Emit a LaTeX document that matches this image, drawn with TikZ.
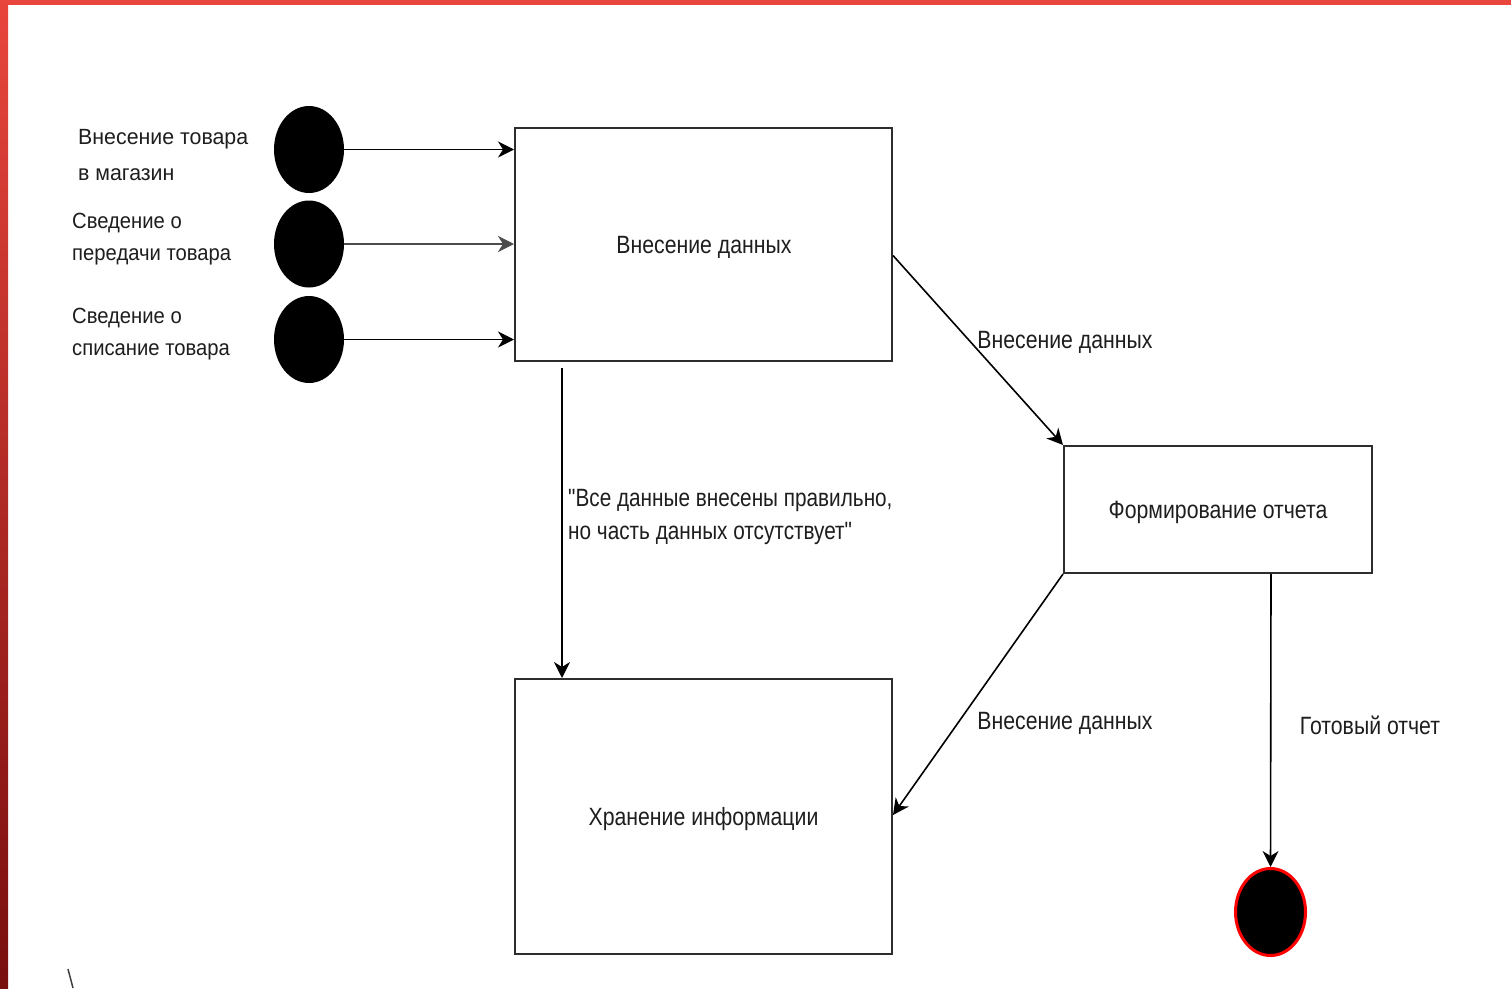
\documentclass[tikz,border=0pt]{standalone}
\usepackage{fontspec}
\setmainfont{Liberation Sans}
\newfontfamily\narrowfont[FakeStretch=0.85]{Liberation Sans}
\newfontfamily\quotefont[FakeStretch=0.83]{Liberation Sans}
\newfontfamily\labfont[FakeStretch=0.92]{Liberation Sans}
\newfontfamily\labwidefont[FakeStretch=0.97]{Liberation Sans}
\usetikzlibrary{arrows.meta,shapes.geometric,positioning}
\definecolor{ink}{RGB}{30,30,30}
\definecolor{edge}{RGB}{45,45,45}
\definecolor{frametop}{RGB}{232,69,60}
\definecolor{framebot}{RGB}{120,14,14}
\tikzset{
  box/.style={draw=edge, line width=2pt, fill=white, rectangle, inner sep=0pt},
  boxtext/.style={font=\narrowfont\fontsize{25}{29}\selectfont, text=ink, inner sep=0pt},
  dot/.style={ellipse, fill=black, draw=none, minimum width=70pt, minimum height=87pt, inner sep=0pt},
  enddot/.style={ellipse, fill=black, draw=red, line width=3pt, minimum width=70pt, minimum height=87pt, inner sep=0pt},
  arr/.style={draw=black, line width=1.6pt, -{Stealth[length=16pt,width=16pt,inset=5pt]}},
  elabel/.style={font=\narrowfont\fontsize{25}{33}\selectfont, text=ink, inner sep=0pt},
  lab/.style={font=\labfont\fontsize{22}{32}\selectfont, text=ink, inner sep=0pt, anchor=west, align=left}
}
\begin{document}
\begin{tikzpicture}[x=1pt,y=-1pt]
\useasboundingbox (0,0) rectangle (1511,988);
\fill[white] (0,0) rectangle (1511,988);
% frame
\fill[frametop] (0,0) rectangle (1511,5);
\shade[top color=frametop, bottom color=framebot] (0,0) rectangle (8,988);
% stray mark
\draw[black!75, line width=1.5pt] (68,969) -- (73,988);

% boxes
\node[box, minimum width=377pt, minimum height=233pt] (b1) at (703.5,244.5) {};
\node[box, minimum width=308pt, minimum height=127pt] (b2) at (1218,509.5) {};
\node[box, minimum width=377pt, minimum height=275pt] (b3) at (703.5,816.5) {};
\node[boxtext] (t1) at (704,247) {Внесение данных};
\node[boxtext] (t2) at (1218,512.5) {Формирование отчета};
\node[boxtext] (t3) at (703.5,819) {Хранение информации};

% start dots
\node[dot] (c1) at (309,149.5) {};
\node[dot] (c2) at (309,244) {};
\node[dot] (c3) at (309,339.5) {};
\node[enddot] (e1) at (1270.5,912) {};

% left labels
\node[lab, font=\labwidefont\fontsize{22}{36}\selectfont] (l1) at (78,155) {Внесение товара\\в магазин};
\node[lab] (l2) at (72,239) {Сведение о\\передачи товара};
\node[lab] (l3) at (72,334.5) {Сведение о\\списание товара};

% connectors
\draw[arr] (c1.east) -- (c1.east -| b1.west);
\draw[arr, draw=black!70, line width=2.4pt] (c2.east) -- (c2.east -| b1.west);
\draw[arr] (c3.east) -- (c3.east -| b1.west);
\coordinate (v1) at (562,368);
\draw[arr] (v1) -- (v1 |- b3.north);
\draw[arr] ([yshift=-11pt]b1.east) -- (b2.north west);
\draw[arr] (b2.south west) -- ([yshift=1.5pt]b3.east);
\draw[arr] ([xshift=53pt]b2.south) -- (e1.north);

% edge labels
\node[elabel, font=\quotefont\fontsize{25}{33}\selectfont, anchor=west, align=left] (q1) at (568,516.5) {"Все данные внесены правильно,\\но часть данных отсутствует"};
\node[elabel] (d1) at (1065,342) {Внесение данных};
\node[elabel] (d2) at (1065,723) {Внесение данных};
\node[elabel] (r1) at (1370,725) {Готовый отчет};
\end{tikzpicture}
\end{document}
